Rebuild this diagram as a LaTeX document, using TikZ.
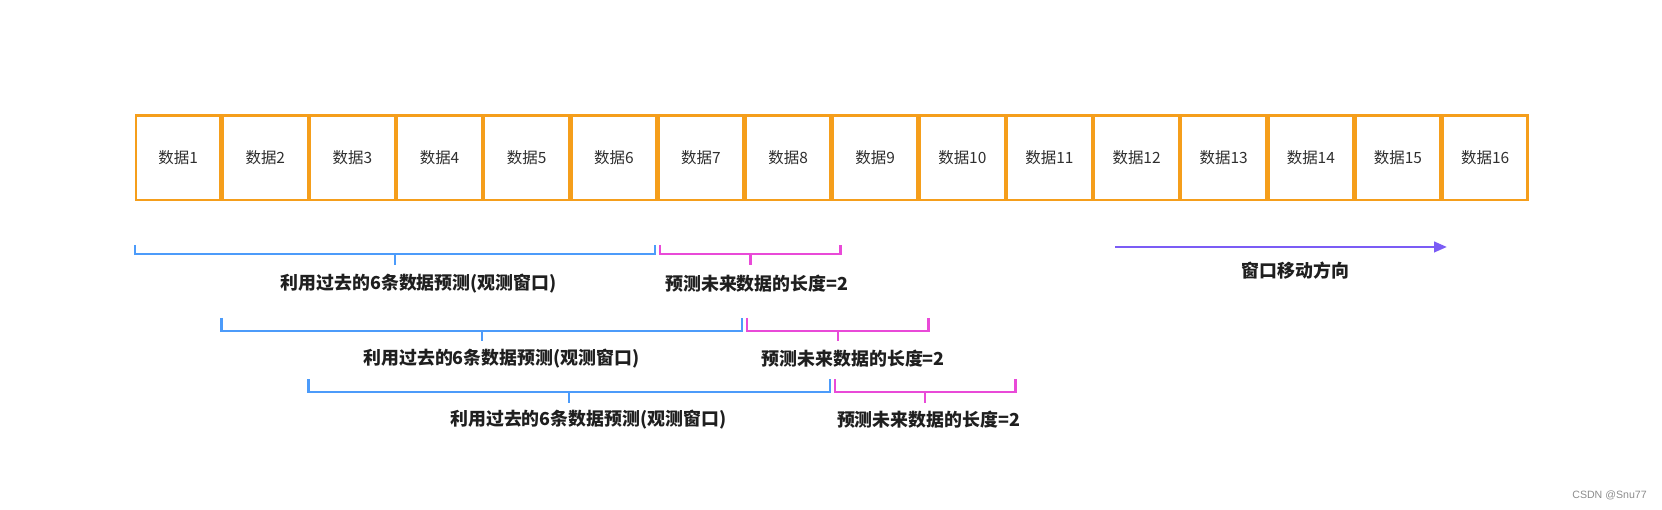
\documentclass[tikz,border=0pt]{standalone}
\usepackage{fontspec}
\setmainfont{Noto Sans CJK SC}
\newfontfamily\wmfont{Liberation Sans}
\usetikzlibrary{positioning}
\usetikzlibrary{arrows.meta}
\definecolor{boxorange}{HTML}{F59E1B}
\definecolor{winblue}{HTML}{4C9BFA}
\definecolor{predpink}{HTML}{E94AD8}
\definecolor{movepurple}{HTML}{7B5CF5}

\begin{document}
\begin{tikzpicture}[x=0.5pt,y=-0.5pt,
  databox/.style={draw=boxorange,line width=1.1pt,minimum width=40pt,minimum height=40pt,inner sep=0pt,text=black!82,font=\fontsize{7.3}{8}\selectfont},
  winbr/.style={draw=winblue,line width=1pt},
  predbr/.style={draw=predpink,line width=1pt},
  lbl/.style={inner sep=0pt,text=black!88,font=\fontsize{8.45}{10}\selectfont\bfseries}]
  \useasboundingbox (0,0) rectangle (1568,481);
  \node[databox] (d1) at (168.1,149) {数据1};
  \node[databox,right=0pt of d1] (d2) {数据2};
  \node[databox,right=0pt of d2] (d3) {数据3};
  \node[databox,right=0pt of d3] (d4) {数据4};
  \node[databox,right=0pt of d4] (d5) {数据5};
  \node[databox,right=0pt of d5] (d6) {数据6};
  \node[databox,right=0pt of d6] (d7) {数据7};
  \node[databox,right=0pt of d7] (d8) {数据8};
  \node[databox,right=0pt of d8] (d9) {数据9};
  \node[databox,right=0pt of d9] (d10) {数据10};
  \node[databox,right=0pt of d10] (d11) {数据11};
  \node[databox,right=0pt of d11] (d12) {数据12};
  \node[databox,right=0pt of d12] (d13) {数据13};
  \node[databox,right=0pt of d13] (d14) {数据14};
  \node[databox,right=0pt of d14] (d15) {数据15};
  \node[databox,right=0pt of d15] (d16) {数据16};
  % windows
  \draw[winbr] (127,231) |- (618,240) -- (618,231) (372.5,240) -- (372.5,250);
  \draw[predbr] (623,231) |- (793,240) -- (793,231) (708,240) -- (708,250);
  \node[lbl] (w1) at (395,268) {利用过去的6条数据预测(观测窗口)};
  \node[lbl] (p1) at (714,268) {预测未来数据的长度=2};
  \draw[winbr] (209,300) |- (700,312) -- (700,300) (454.5,312) -- (454.5,322);
  \draw[predbr] (705,300) |- (876,312) -- (876,300) (790.5,312) -- (790.5,322);
  \node[lbl] (w2) at (473,338) {利用过去的6条数据预测(观测窗口)};
  \node[lbl] (p2) at (805,338) {预测未来数据的长度=2};
  \draw[winbr] (291,358) |- (783,370) -- (783,358) (537,370) -- (537,380);
  \draw[predbr] (788,358) |- (958,370) -- (958,358) (873,370) -- (873,380);
  \node[lbl] (w3) at (555,396) {利用过去的6条数据预测(观测窗口)};
  \node[lbl] (p3) at (876,396) {预测未来数据的长度=2};
  % direction
  \coordinate (m0) at (1052,233);
  \coordinate (m1) at (1365,233);
  \draw[movepurple,line width=1pt,-{Triangle[length=6pt,width=5pt]}] (m0) -- (m1);
  \node[lbl] (mv) at (1222,255) {窗口移动方向};
  \node[inner sep=0pt,anchor=east,text=black!45,font=\wmfont\fontsize{5}{6}\selectfont] (wm) at (1554,467) {CSDN @Snu77};
\end{tikzpicture}
\end{document}
